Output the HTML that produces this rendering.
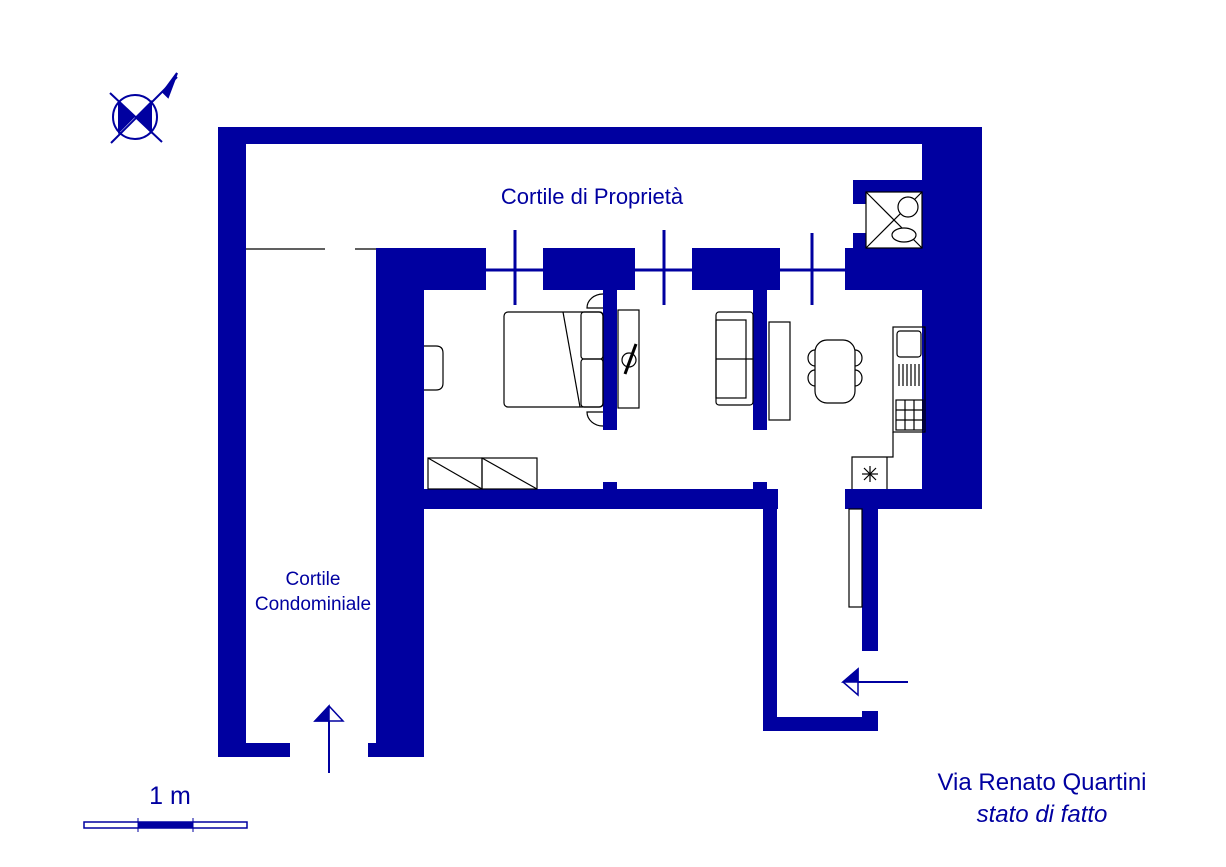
<!DOCTYPE html>
<html><head><meta charset="utf-8"><style>html,body{margin:0;padding:0;background:#fff}svg{display:block}</style></head><body>
<svg width="1226" height="867" viewBox="0 0 1226 867" xmlns="http://www.w3.org/2000/svg" font-family="Liberation Sans, sans-serif">
<g fill="#0000a0">
<rect x="218" y="127" width="764" height="17"/>
<rect x="218" y="127" width="28" height="630"/>
<rect x="218" y="743" width="72" height="14"/>
<rect x="922" y="127" width="60" height="382"/>
<rect x="376" y="248" width="48" height="509"/>
<rect x="368" y="743" width="56" height="14"/>
<rect x="376" y="248" width="110" height="42"/>
<rect x="543" y="248" width="92" height="42"/>
<rect x="692" y="248" width="88" height="42"/>
<rect x="845" y="248" width="80" height="42"/>
<rect x="853" y="180" width="72" height="12"/>
<rect x="853" y="180" width="13" height="24"/>
<rect x="853" y="233" width="13" height="16"/>
<rect x="603" y="290" width="14" height="140"/>
<rect x="753" y="290" width="14" height="140"/>
<rect x="603" y="482" width="14" height="8"/>
<rect x="753" y="482" width="14" height="8"/>
<rect x="424" y="489" width="354" height="20"/>
<rect x="845" y="489" width="80" height="20"/>
<rect x="763" y="489" width="14" height="242"/>
<rect x="763" y="717" width="115" height="14"/>
<rect x="862" y="711" width="16" height="20"/>
<rect x="862" y="509" width="16" height="142"/>
</g>
<g stroke="#0000a0" stroke-width="3" fill="none">
<line x1="486" y1="270" x2="543" y2="270"/><line x1="515" y1="230" x2="515" y2="305"/>
<line x1="635" y1="270" x2="692" y2="270"/><line x1="664" y1="230" x2="664" y2="305"/>
<line x1="780" y1="270" x2="845" y2="270"/><line x1="812" y1="233" x2="812" y2="305"/>
<line x1="908" y1="682" x2="858" y2="682" stroke-width="2"/>
<line x1="329" y1="773" x2="329" y2="721" stroke-width="2"/>
</g>
<g fill="#0000a0" stroke="#0000a0" stroke-width="1.5">
<polygon points="843,682 858,669 858,695" fill="#fff"/>
<polygon points="843,682 858,669 858,682"/>
<polygon points="315,721 329,706 343,721" fill="#fff"/>
<polygon points="315,721 329,706 329,721"/>
</g>
<g stroke="#000" stroke-width="1.2" fill="none">
<line x1="246" y1="249" x2="325" y2="249"/><line x1="355" y1="249" x2="376" y2="249"/>
<rect x="504" y="312" width="99" height="95" rx="4"/>
<line x1="563" y1="312" x2="580" y2="407"/>
<rect x="581" y="312" width="22" height="47" rx="3"/><rect x="581" y="359" width="22" height="48" rx="3"/>
<path d="M603,294 A16,14 0 0 0 587,308 L603,308"/><path d="M603,426 A16,14 0 0 1 587,412 L603,412"/>
<rect x="618" y="310" width="21" height="98"/>
<circle cx="629" cy="360" r="7"/><line x1="625" y1="374" x2="636" y2="344" stroke-width="3"/>
<rect x="716" y="312" width="37" height="93" rx="3"/><rect x="716" y="320" width="30" height="78"/><line x1="716" y1="359" x2="753" y2="359"/>
<rect x="769" y="322" width="21" height="98"/>
<rect x="815" y="340" width="40" height="63" rx="12"/>
<path d="M815,350 a7,8 0 0 0 0,16 M815,370 a7,8 0 0 0 0,16 M855,350 a7,8 0 0 1 0,16 M855,370 a7,8 0 0 1 0,16"/>
<rect x="428" y="458" width="54" height="31"/><rect x="482" y="458" width="55" height="31"/>
<line x1="428" y1="458" x2="482" y2="489"/><line x1="482" y1="458" x2="537" y2="489"/>
<path d="M424,346 L436,346 Q443,346 443,353 L443,383 Q443,390 436,390 L424,390"/>
<rect x="893" y="327" width="32" height="105"/>
<rect x="897" y="331" width="24" height="26" rx="3"/>
<path d="M899,364v22M903,364v22M907,364v22M911,364v22M915,364v22M919,364v22"/>
<rect x="896" y="400" width="27" height="30"/>
<path d="M905,400v30M914,400v30M896,410h27M896,420h27"/>
<path d="M893,432 L893,457 L852,457 L852,489 M887,457 L887,489"/>
<line x1="870" y1="466" x2="870" y2="482"/><line x1="862" y1="474" x2="878" y2="474"/><line x1="864" y1="468" x2="876" y2="480"/><line x1="876" y1="468" x2="864" y2="480"/>
<rect x="849" y="509" width="13" height="98"/>
<rect x="866" y="192" width="56" height="56"/>
<line x1="866" y1="192" x2="922" y2="248"/><line x1="866" y1="248" x2="922" y2="192"/>
<circle cx="908" cy="207" r="10" fill="#fff"/><ellipse cx="904" cy="235" rx="12" ry="7" fill="#fff"/>
</g>
<g stroke="#0000a0" stroke-width="2">
<circle cx="135" cy="117" r="22" fill="#fff"/>
<path d="M118,100 L152,134 L152,100 L118,134 Z" fill="#0000a0" stroke="none"/>
<line x1="110" y1="93" x2="162" y2="142"/><line x1="111" y1="143" x2="177" y2="77"/>
<polygon points="177,73 163,92 168,97" fill="#0000a0"/>
</g>
<rect x="84" y="822" width="163" height="6" fill="#fff" stroke="#0000a0" stroke-width="1.5"/>
<rect x="138" y="822" width="55" height="6" fill="#0000a0"/>
<line x1="138" y1="818" x2="138" y2="832" stroke="#0000a0"/><line x1="193" y1="818" x2="193" y2="832" stroke="#0000a0"/>
<g fill="#0000a0">
<text x="592" y="204" font-size="22" text-anchor="middle">Cortile di Proprietà</text>
<text x="313" y="585" font-size="19" text-anchor="middle">Cortile</text>
<text x="313" y="610" font-size="19" text-anchor="middle">Condominiale</text>
<text x="170" y="804" font-size="25" text-anchor="middle">1 m</text>
<text x="1042" y="790" font-size="24" text-anchor="middle">Via Renato Quartini</text>
<text x="1042" y="822" font-size="24" text-anchor="middle" font-style="italic">stato di fatto</text>
</g>
</svg>
</body></html>
